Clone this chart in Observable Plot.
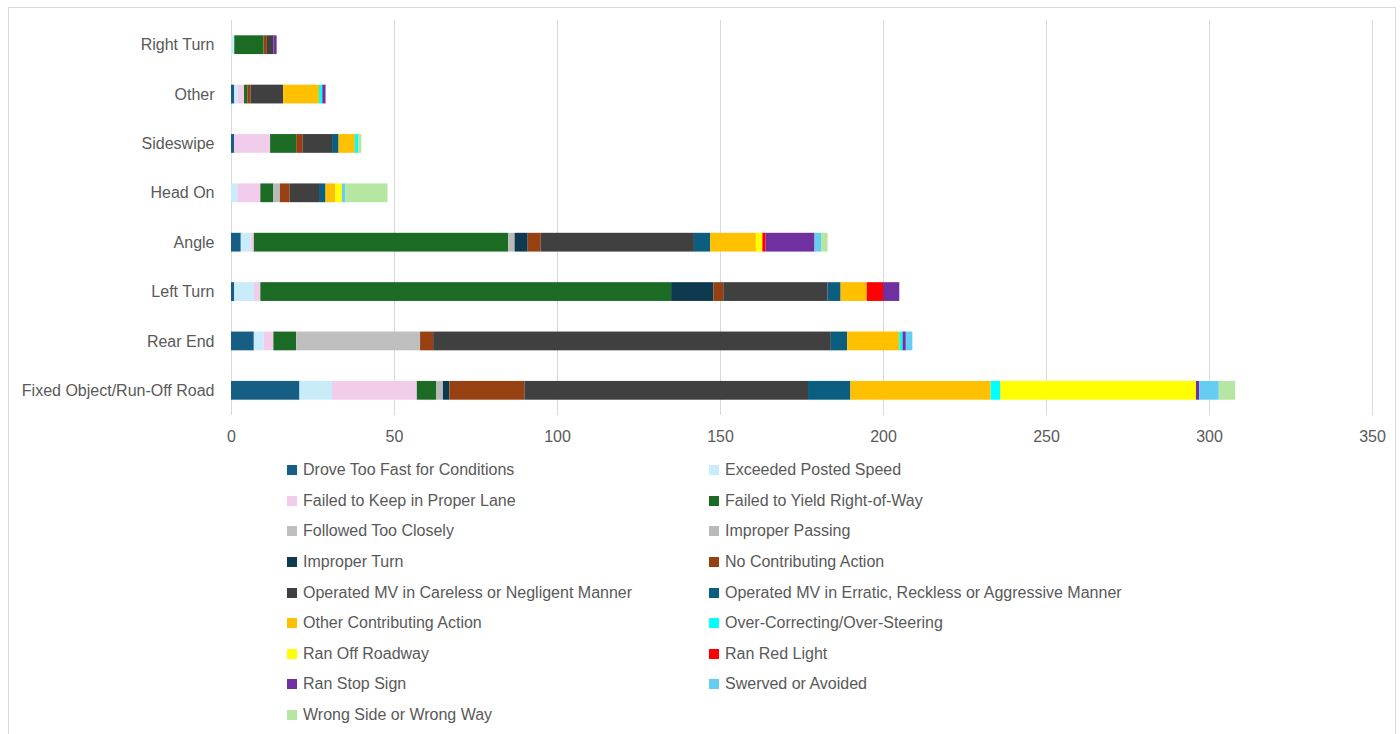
<!DOCTYPE html>
<html>
<head>
<meta charset="utf-8">
<script src="https://cdn.jsdelivr.net/npm/d3@7"></script>
<script src="https://cdn.jsdelivr.net/npm/@observablehq/plot@0.6"></script>
<style>
  html, body { margin: 0; padding: 0; background: #fff; }
  body { width: 1400px; height: 734px; overflow: hidden; font-family: "Liberation Sans", Arial, sans-serif; }
  #wrap { position: relative; width: 1400px; height: 734px; }
  #frame { position: absolute; left: 8px; top: 7px; width: 1388px; height: 760px; border: 1px solid #d9d9d9; box-sizing: border-box; }
  #chart { position: absolute; left: 0; top: 0; }
  #legend { position: absolute; left: 287px; top: 455px; display: grid; grid-template-columns: 422px 500px; grid-auto-rows: 30.6px; }
  .item { display: flex; align-items: center; font-size: 16px; color: #595959; white-space: nowrap; }
  .sw { width: 10px; height: 10px; margin-right: 6px; flex: none; }
</style>
</head>
<body>
<div id="wrap">
  <div id="frame"></div>
  <div id="chart"></div>
  <div id="legend"></div>
</div>
<script>
const crashTypes = ["Right Turn", "Other", "Sideswipe", "Head On", "Angle", "Left Turn", "Rear End", "Fixed Object/Run-Off Road"];

const causes = [
  "Drove Too Fast for Conditions",
  "Exceeded Posted Speed",
  "Failed to Keep in Proper Lane",
  "Failed to Yield Right-of-Way",
  "Followed Too Closely",
  "Improper Passing",
  "Improper Turn",
  "No Contributing Action",
  "Operated MV in Careless or Negligent Manner",
  "Operated MV in Erratic, Reckless or Aggressive Manner",
  "Other Contributing Action",
  "Over-Correcting/Over-Steering",
  "Ran Off Roadway",
  "Ran Red Light",
  "Ran Stop Sign",
  "Swerved or Avoided",
  "Wrong Side or Wrong Way"
];

const causeColors = [
  "#175E84", "#C9ECFA", "#F1CDEB", "#1B6B25", "#BFBFBF", "#BABABA",
  "#0E3A4F", "#974011", "#404040", "#0B5E80", "#FFC000", "#00FFFF",
  "#FFFF00", "#FF0000", "#7030A0", "#66CCF2", "#B5E6A2"
];

// values per cause, in crashTypes order
const droveTooFast      = [0, 1, 1, 0, 3, 1, 7, 21];
const exceededSpeed     = [1, 1, 0, 2, 3, 6, 3, 10];
const failedKeepLane    = [0, 2, 11, 7, 1, 2, 3, 26];
const failedYield       = [9, 1, 8, 4, 78, 126, 7, 6];
const followedClosely   = [0, 0, 0, 0, 0, 0, 38, 0];
const improperPassing   = [0, 0, 0, 2, 2, 0, 0, 2];
const improperTurn      = [0, 0, 0, 0, 4, 13, 0, 2];
const noContributing    = [1, 1, 2, 3, 4, 3, 4, 23];
const careless          = [2, 10, 9, 9, 47, 32, 122, 87];
const erratic           = [0, 0, 2, 2, 5, 4, 5, 13];
const otherContributing = [0, 11, 5, 3, 14, 8, 16, 43];
const overCorrecting    = [0, 1, 1, 0, 0, 0, 1, 3];
const ranOffRoadway     = [0, 0, 0, 2, 2, 0, 0, 60];
const ranRedLight       = [0, 0, 0, 0, 1, 5, 0, 0];
const ranStopSign       = [1, 1, 0, 0, 15, 5, 1, 1];
const swerved           = [0, 0, 0, 1, 2, 0, 2, 6];
const wrongSide         = [0, 0, 1, 13, 2, 0, 0, 5];

const xTicks = [0, 50, 100, 150, 200, 250, 300, 350];

const seriesValues = [
  droveTooFast, exceededSpeed, failedKeepLane, failedYield, followedClosely,
  improperPassing, improperTurn, noContributing, careless, erratic,
  otherContributing, overCorrecting, ranOffRoadway, ranRedLight, ranStopSign,
  swerved, wrongSide
];

const rows = [];
causes.forEach((c, ci) => {
  crashTypes.forEach((t, ti) => {
    const v = seriesValues[ci][ti];
    if (v > 0) rows.push({type: t, cause: c, value: v});
  });
});

const chart = Plot.plot({
  width: 1400,
  height: 450,
  marginLeft: 231,
  marginRight: 28,
  marginTop: 20,
  marginBottom: 35,
  style: {fontFamily: "'Liberation Sans', Arial, sans-serif", fontSize: "16px", color: "#595959", background: "transparent"},
  x: {domain: [0, 350], ticks: xTicks, label: null},
  y: {domain: crashTypes, label: null, paddingInner: 0.62, paddingOuter: 0.31, round: false},
  color: {domain: causes, range: causeColors},
  marks: [
    Plot.gridX(xTicks, {stroke: "#d9d9d9", strokeOpacity: 1, strokeWidth: 1}),
    Plot.barX(rows, Plot.stackX({x: "value", y: "type", fill: "cause", order: causes})),
    Plot.axisX({ticks: xTicks, tickSize: 0, tickPadding: 15, fill: "#595959", fontSize: 16, label: null}),
    Plot.axisY({tickSize: 0, tickPadding: 17, fill: "#595959", fontSize: 16, label: null})
  ]
});
document.getElementById("chart").appendChild(chart);

const legend = document.getElementById("legend");
causes.forEach((c, i) => {
  const item = document.createElement("div");
  item.className = "item";
  const sw = document.createElement("span");
  sw.className = "sw";
  sw.style.background = causeColors[i];
  const label = document.createElement("span");
  label.textContent = c;
  item.appendChild(sw);
  item.appendChild(label);
  legend.appendChild(item);
});
</script>
</body>
</html>
